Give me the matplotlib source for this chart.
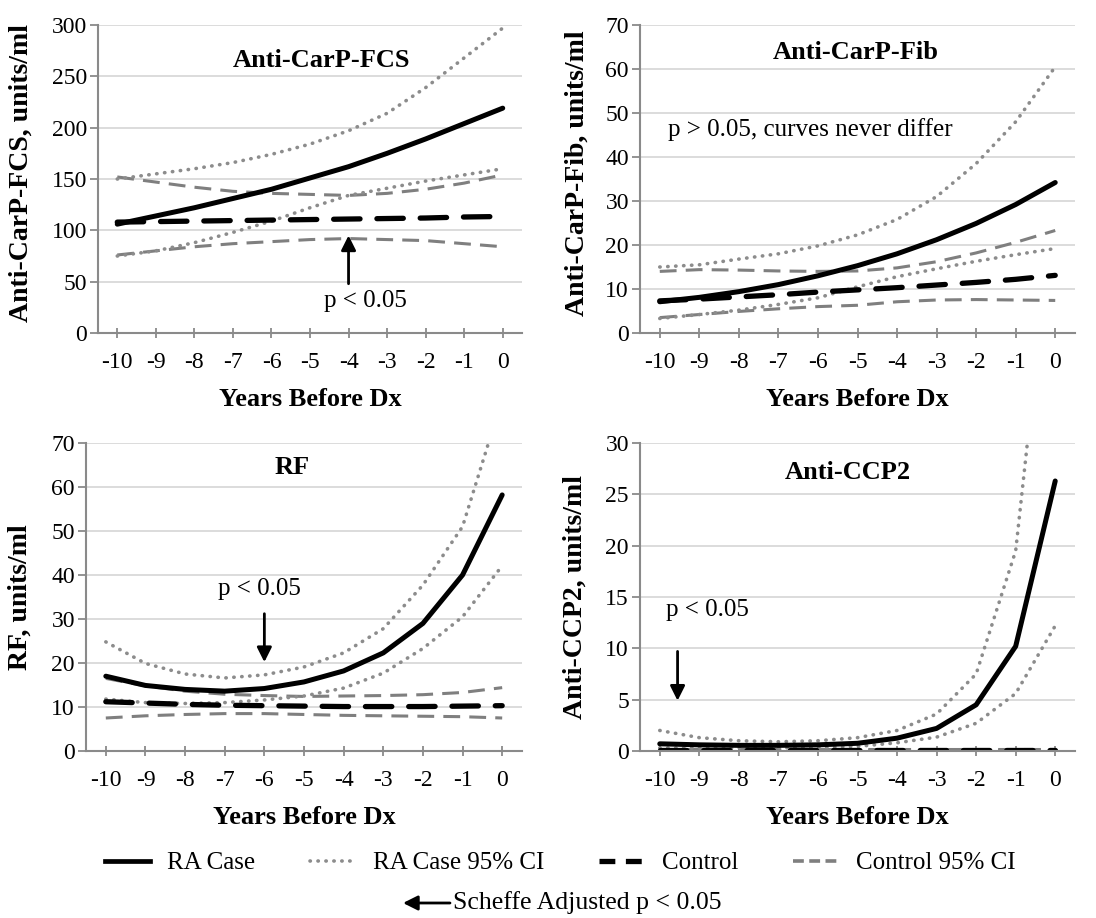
import matplotlib.pyplot as plt
from matplotlib.patches import FancyArrowPatch
import numpy as np

plt.rcParams['font.family'] = ['Liberation Serif', 'DejaVu Serif']

years = np.arange(-10, 1)
xtick_labels = [str(v) for v in years]

# Anti-CarP-FCS
fcs_case = [106, 114, 122, 131, 140, 151, 162, 175, 189, 204, 219]
fcs_case_hi = [150, 155, 160, 166, 174, 184, 197, 214, 239, 268, 297]
fcs_case_lo = [75, 80, 88, 98, 109, 122, 134, 141, 148, 154, 160]
fcs_ctrl = [108, 108.5, 109, 109.5, 110, 110.5, 111, 111.5, 112, 113, 113.5]
fcs_ctrl_hi = [152, 147, 142, 138, 136, 135, 134, 136, 140, 146, 154]
fcs_ctrl_lo = [76, 80, 84, 87, 89, 91, 92, 91, 90, 87, 84]

# Anti-CarP-Fib
fib_case = [7.1, 8.1, 9.4, 11.0, 13.0, 15.3, 18.0, 21.2, 24.9, 29.2, 34.2]
fib_case_hi = [15.0, 15.5, 16.8, 18.0, 19.8, 22.3, 25.8, 31.0, 38.5, 48.0, 60.5]
fib_case_lo = [3.3, 4.2, 5.2, 6.5, 8.0, 10.5, 12.8, 14.6, 16.3, 17.8, 19.2]
fib_ctrl = [7.3, 7.7, 8.2, 8.7, 9.3, 9.8, 10.3, 10.9, 11.5, 12.2, 13.1]
fib_ctrl_hi = [14.0, 14.4, 14.3, 14.1, 14.0, 14.1, 14.8, 16.2, 18.2, 20.6, 23.3]
fib_ctrl_lo = [3.5, 4.2, 4.9, 5.5, 6.0, 6.3, 7.1, 7.5, 7.6, 7.5, 7.4]

# RF
rf_case = [17.0, 14.9, 14.0, 13.6, 14.2, 15.7, 18.2, 22.3, 29.0, 40.0, 58.2]
rf_case_hi = [24.8, 19.9, 17.5, 16.6, 17.3, 19.1, 22.3, 27.8, 37.7, 51.0, 80.0]
rf_case_lo = [11.8, 11.0, 10.8, 11.0, 11.6, 12.5, 14.3, 17.7, 23.3, 30.5, 42.1]
rf_ctrl = [11.2, 10.9, 10.6, 10.4, 10.3, 10.2, 10.1, 10.1, 10.1, 10.2, 10.3]
rf_ctrl_hi = [16.5, 14.8, 13.6, 12.9, 12.6, 12.4, 12.5, 12.6, 12.8, 13.3, 14.4]
rf_ctrl_lo = [7.5, 8.0, 8.3, 8.5, 8.5, 8.3, 8.1, 8.0, 7.9, 7.8, 7.5]

# Anti-CCP2
ccp_case = [0.7, 0.6, 0.55, 0.55, 0.6, 0.75, 1.25, 2.2, 4.5, 10.2, 26.3]
ccp_case_hi = [2.0, 1.3, 1.0, 0.9, 1.0, 1.3, 2.0, 3.6, 7.5, 19.5, 55.0]
ccp_case_lo = [0.3, 0.3, 0.3, 0.3, 0.35, 0.45, 0.8, 1.35, 2.7, 5.6, 12.2]
ccp_ctrl = [0.1, 0.1, 0.1, 0.1, 0.1, 0.1, 0.1, 0.1, 0.1, 0.1, 0.1]
ccp_ctrl_hi = [0.2, 0.2, 0.2, 0.2, 0.2, 0.2, 0.2, 0.2, 0.2, 0.2, 0.2]
ccp_ctrl_lo = [0.05, 0.05, 0.05, 0.05, 0.05, 0.05, 0.05, 0.05, 0.05, 0.05, 0.05]

GRAY_DOT = '#8c8c8c'
GRAY_DASH = '#7f7f7f'
AXIS_GRAY = '#8a8a8a'


def draw_panel(ax, case, case_lo, case_hi, ctrl, ctrl_lo, ctrl_hi,
               ymax, ystep, ylabel, title, title_xy, ylabel_xy):
    ax.set_xlim(-10.5, 0.5)
    ax.set_ylim(0, ymax)
    ax.set_yticks(np.arange(0, ymax + ystep / 2, ystep))
    ax.set_xticks(years)
    ax.set_xticklabels(xtick_labels)
    ax.yaxis.grid(True, color='#d9d9d9', lw=1.3)
    ax.set_axisbelow(True)

    for s in ['top', 'right']:
        ax.spines[s].set_visible(False)
    for s in ['left', 'bottom']:
        ax.spines[s].set_color(AXIS_GRAY)
        ax.spines[s].set_linewidth(1.5)
    ax.tick_params(axis='x', direction='inout', length=7.5, width=1.3,
                   color=AXIS_GRAY, labelsize=17, pad=10)
    ax.tick_params(axis='y', direction='out', length=6, width=1.3,
                   color=AXIS_GRAY, labelsize=17, pad=2)

    # Intervalles de confiance
    ax.plot(years, ctrl_hi, color=GRAY_DASH, lw=2.2, dashes=(5.5, 3))
    ax.plot(years, ctrl_lo, color=GRAY_DASH, lw=2.2, dashes=(5.5, 3))
    ax.plot(years, case_hi, color=GRAY_DOT, lw=2.6, dashes=(0.1, 2.1),
            dash_capstyle='round')
    ax.plot(years, case_lo, color=GRAY_DOT, lw=2.6, dashes=(0.1, 2.1),
            dash_capstyle='round')
    # Courbes principales
    ax.plot(years, ctrl, color='black', lw=3.8, dashes=(5, 3.2),
            dash_capstyle='round')
    ax.plot(years, case, color='black', lw=3.6, solid_capstyle='round')

    ax.text(title_xy[0], title_xy[1], title, transform=ax.transAxes,
            ha='center', va='center', fontsize=19, fontweight='bold')
    ax.set_ylabel(ylabel, fontsize=20, fontweight='bold')
    ax.yaxis.set_label_coords(*ylabel_xy)
    ax.set_xlabel('Years Before Dx', fontsize=19, fontweight='bold')
    ax.xaxis.set_label_coords(0.5, -0.18)


fig = plt.figure(figsize=(10.96, 9.18), dpi=100)
W, H = 1096, 918


def add_ax(left, right, top, bottom):
    return fig.add_axes([left / W, 1 - bottom / H, (right - left) / W, (bottom - top) / H])


ax1 = add_ax(98, 522, 25, 333)
ax2 = add_ax(640, 1075, 25, 333)
ax3 = add_ax(86, 522, 443, 751)
ax4 = add_ax(640, 1075, 443, 751)

draw_panel(ax1, fcs_case, fcs_case_lo, fcs_case_hi, fcs_ctrl, fcs_ctrl_lo, fcs_ctrl_hi,
           300, 50, 'Anti-CarP-FCS, units/ml', 'Anti-CarP-FCS', (0.528, 0.886), (-0.151, 0.52))
draw_panel(ax2, fib_case, fib_case_lo, fib_case_hi, fib_ctrl, fib_ctrl_lo, fib_ctrl_hi,
           70, 10, 'Anti-CarP-Fib, units/ml', 'Anti-CarP-Fib', (0.497, 0.912), (-0.115, 0.52))
draw_panel(ax3, rf_case, rf_case_lo, rf_case_hi, rf_ctrl, rf_ctrl_lo, rf_ctrl_hi,
           70, 10, 'RF, units/ml', 'RF', (0.472, 0.919), (-0.122, 0.5))
draw_panel(ax4, ccp_case, ccp_case_lo, ccp_case_hi, ccp_ctrl, ccp_ctrl_lo, ccp_ctrl_hi,
           30, 5, 'Anti-CCP2, units/ml', 'Anti-CCP2', (0.478, 0.903), (-0.12, 0.5))

arrow_kw = dict(arrowstyle='-|>', color='black', lw=2, mutation_scale=22,
                shrinkA=0, shrinkB=0)

# Annotations p < 0.05
ax1.annotate('', xy=(-4, 95), xytext=(-4, 48), arrowprops=arrow_kw)
ax1.text(-3.55, 31, 'p < 0.05', ha='center', va='center', fontsize=18)

ax2.text(-9.8, 46.2, 'p > 0.05, curves never differ', ha='left', va='center', fontsize=18)

ax3.annotate('', xy=(-6, 20.2), xytext=(-6, 31.2), arrowprops=arrow_kw)
ax3.text(-6.12, 36.9, 'p < 0.05', ha='center', va='center', fontsize=18)

ax4.annotate('', xy=(-9.55, 4.9), xytext=(-9.55, 9.7), arrowprops=arrow_kw)
ax4.text(-8.8, 13.7, 'p < 0.05', ha='center', va='center', fontsize=18)

# Légende commune
handles = [
    plt.Line2D([], [], color='black', lw=3.4),
    plt.Line2D([], [], color=GRAY_DOT, lw=2.6, dashes=(0.1, 2.1), dash_capstyle='round'),
    plt.Line2D([], [], color='black', lw=3.8, dashes=(3, 2)),
    plt.Line2D([], [], color=GRAY_DASH, lw=2.6, dashes=(3, 1.5)),
]
labels = ['RA Case', 'RA Case 95% CI', 'Control', 'Control 95% CI']
fig.legend(handles, labels, loc='center', bbox_to_anchor=(560 / W, 1 - 863 / H),
           ncol=4, frameon=False, fontsize=18, handlelength=1.8,
           handletextpad=0.7, columnspacing=2.2, borderpad=0)

# Flèche de la note Scheffe
fig.add_artist(FancyArrowPatch(
    (450 / W, 1 - 903 / H), (403 / W, 1 - 903 / H), transform=fig.transFigure,
    **arrow_kw))
fig.text(453 / W, 1 - 903 / H, 'Scheffe Adjusted p < 0.05', ha='left', va='center',
         fontsize=18.5)

fig.savefig('out.png', dpi=100)
